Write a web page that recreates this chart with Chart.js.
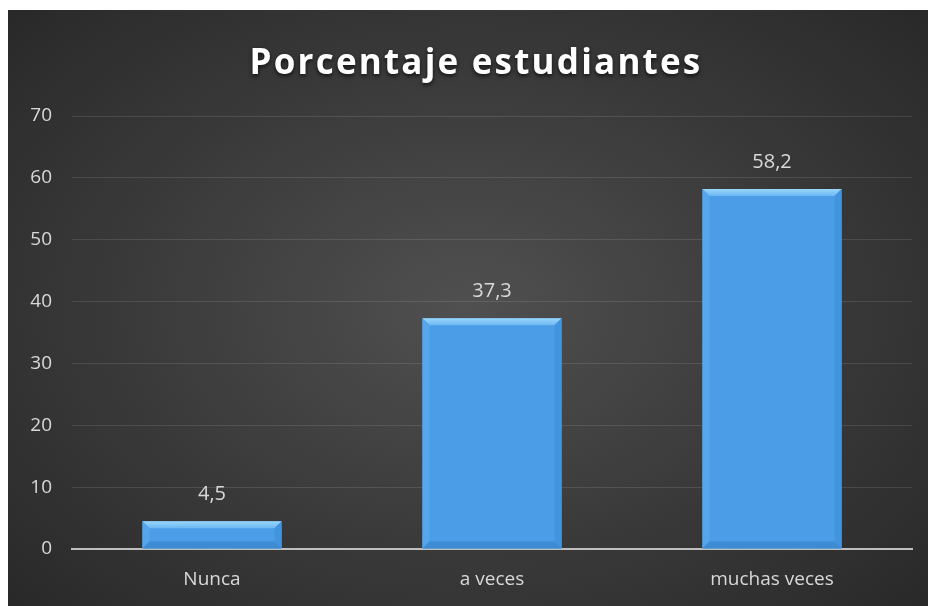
<!DOCTYPE html>
<html>
<head>
<meta charset="utf-8">
<script src="https://cdn.jsdelivr.net/npm/chart.js@4.4.0/dist/chart.umd.min.js"></script>
<style>
  html, body { margin: 0; padding: 0; background: #fff; }
  #wrap { position: absolute; left: 8px; top: 10px; width: 920px; height: 596px;
          background: radial-gradient(ellipse 70% 75% at 50% 50%, #505050 0%, #393939 55%, #282828 100%); }
</style>
</head>
<body>
<div id="wrap"><canvas id="c" width="920" height="596"></canvas></div>
<script>
// chart data
const titleText = 'Porcentaje estudiantes';
const categories = ['Nunca', 'a veces', 'muchas veces'];
const values = [4.5, 37.3, 58.2];
const yMax = 70;
const yStep = 10;

const fontFamily = "'Open Sans', 'Noto Sans', sans-serif";

// title drawn by hand so it can carry letter spacing and a soft shadow
const titlePlugin = {
    id: 'titleDraw',
    afterDraw(chart) {
        const ctx = chart.ctx;
        ctx.save();
        ctx.font = `bold 35px ${fontFamily}`;
        ctx.letterSpacing = '2.2px';
        ctx.textAlign = 'center';
        ctx.textBaseline = 'alphabetic';
        ctx.shadowColor = 'rgba(0,0,0,0.7)';
        ctx.shadowBlur = 4;
        ctx.shadowOffsetY = 2;
        ctx.fillStyle = '#ffffff';
        ctx.fillText(titleText, 468, 64);
        ctx.restore();
    }
};

// bevel edges and value labels on the bars
const barPlugin = {
    id: 'barBevel',
    afterDatasetsDraw(chart) {
        const ctx = chart.ctx;
        const meta = chart.getDatasetMeta(0);
        meta.data.forEach((bar, i) => {
            const l = bar.x - bar.width / 2, r = bar.x + bar.width / 2;
            const t = bar.y, b = bar.base;
            const bv = Math.min(7, (b - t) / 2);
            ctx.save();
            // top
            const g = ctx.createLinearGradient(0, t, 0, t + bv);
            g.addColorStop(0, '#9ad6fb');
            g.addColorStop(1, '#6cb8f2');
            ctx.fillStyle = g;
            ctx.beginPath();
            ctx.moveTo(l, t); ctx.lineTo(r, t); ctx.lineTo(r - bv, t + bv); ctx.lineTo(l + bv, t + bv);
            ctx.closePath(); ctx.fill();
            // left
            ctx.fillStyle = '#55a6ec';
            ctx.beginPath();
            ctx.moveTo(l, t); ctx.lineTo(l + bv, t + bv); ctx.lineTo(l + bv, b - bv); ctx.lineTo(l, b);
            ctx.closePath(); ctx.fill();
            // right
            ctx.fillStyle = '#4394de';
            ctx.beginPath();
            ctx.moveTo(r, t); ctx.lineTo(r - bv, t + bv); ctx.lineTo(r - bv, b - bv); ctx.lineTo(r, b);
            ctx.closePath(); ctx.fill();
            // bottom
            ctx.fillStyle = '#3d8bd3';
            ctx.beginPath();
            ctx.moveTo(l, b); ctx.lineTo(l + bv, b - bv); ctx.lineTo(r - bv, b - bv); ctx.lineTo(r, b);
            ctx.closePath(); ctx.fill();

            ctx.font = `20px ${fontFamily}`;
            ctx.fillStyle = '#d9d9d9';
            ctx.textAlign = 'center';
            ctx.textBaseline = 'middle';
            ctx.fillText(values[i].toFixed(1).replace('.', ','), bar.x, t - 27);
            ctx.restore();
        });
    }
};

new Chart(document.getElementById('c'), {
    type: 'bar',
    data: {
        labels: categories,
        datasets: [{
            data: values,
            backgroundColor: '#4b9de8',
            borderWidth: 0,
            categoryPercentage: 1.0,
            barPercentage: 0.497,
        }],
    },
    options: {
        responsive: false,
        animation: false,
        layout: { padding: { top: 106, right: 16, bottom: 0, left: 0 } },
        scales: {
            x: {
                grid: { display: false, drawTicks: false },
                border: { display: true, color: '#bfbfbf', width: 2 },
                ticks: { color: '#d9d9d9', font: { family: fontFamily, size: 19 }, padding: 19 },
                afterFit(scale) { scale.height = 57; },
            },
            y: {
                min: 0, max: yMax,
                grid: { color: 'rgba(255,255,255,0.11)', drawTicks: false },
                border: { display: false },
                ticks: { stepSize: yStep, color: '#d9d9d9', font: { family: fontFamily, size: 19 }, padding: 20 },
                afterFit(scale) { scale.width = 64; },
            },
        },
        plugins: {
            legend: { display: false },
            tooltip: { enabled: false },
        },
    },
    plugins: [titlePlugin, barPlugin],
});
</script>
</body>
</html>
